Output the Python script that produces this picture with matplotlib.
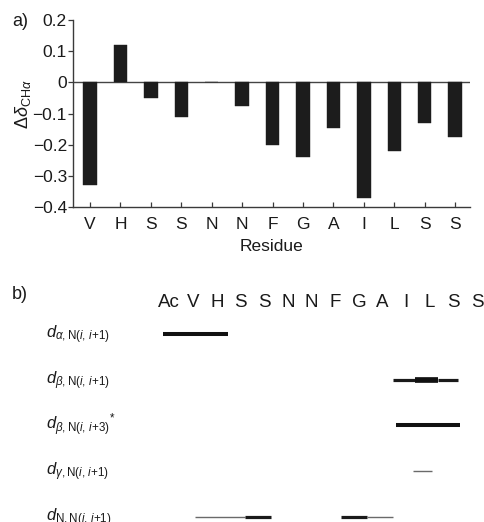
import matplotlib
matplotlib.use("Agg")
import matplotlib.pyplot as plt
import matplotlib.transforms as mtransforms

plt.rcParams["font.family"] = ["Liberation Sans", "DejaVu Sans"]
plt.rcParams["mathtext.fontset"] = "custom"
plt.rcParams["mathtext.rm"] = "Liberation Sans"
plt.rcParams["mathtext.it"] = "Liberation Sans:italic"
plt.rcParams["mathtext.bf"] = "Liberation Sans:bold"
plt.rcParams["axes.unicode_minus"] = True

# ---- panel a: secondary chemical shifts ----
residues = ["V", "H", "S", "S", "N", "N", "F", "G", "A", "I", "L", "S", "S"]
delta_cha = [-0.33, 0.12, -0.05, -0.11, 0.0, -0.075, -0.20, -0.24, -0.145,
             -0.37, -0.22, -0.13, -0.175]
y_ticks = [0.2, 0.1, 0.0, -0.1, -0.2, -0.3, -0.4]
y_tick_labels = ["0.2", "0.1", "0", "\u22120.1", "\u22120.2", "\u22120.3", "\u22120.4"]

# ---- panel b: NOE connectivities ----
sequence = ["Ac", "V", "H", "S", "S", "N", "N", "F", "G", "A", "I", "L", "S", "S"]
noe_labels = [
    r"$d_{\alpha\mathrm{,N}(i,\,i\mathrm{+1})}$",
    r"$d_{\beta\mathrm{,N}(i,\,i\mathrm{+1})}$",
    r"$d_{\beta\mathrm{,N}(i,\,i\mathrm{+3})}{}^{*}$",
    r"$d_{\gamma\mathrm{,N}(i,\,i\mathrm{+1})}$",
    r"$d_{\mathrm{N,N}(i,\,i\mathrm{+1})}$",
]
# (start residue, end residue, intensity class) for each row
noe_segments = [
    [(-0.27, 2.48, "strong")],
    [(9.44, 10.36, "medium"), (10.36, 11.33, "very strong"), (11.33, 12.18, "medium")],
    [(9.56, 12.26, "strong")],
    [(10.28, 11.08, "weak")],
    [(1.08, 3.18, "weak"), (3.18, 4.27, "medium"), (7.24, 8.35, "medium"), (8.35, 9.42, "weak")],
]
intensity_width = {"weak": 1.0, "medium": 2.3, "strong": 2.9, "very strong": 4.1}
intensity_color = {"weak": "#6a6a6a", "medium": "#1a1a1a", "strong": "#111111",
                   "very strong": "#111111"}

W, H = 485, 522
fig = plt.figure(figsize=(W / 100, H / 100), dpi=100)
txt = "#1a1a1a"
spine_c = "#3a3a3a"

ax = fig.add_axes([73 / W, 1 - 207 / H, (470 - 73) / W, (207 - 20) / H])
x = list(range(len(residues)))
ax.bar(x, delta_cha, width=0.44, color="#1c1c1c", edgecolor="#1c1c1c", linewidth=0.3, zorder=2)
ax.axhline(0, color="#444444", lw=1.0, zorder=1)
ax.set_xlim(-0.56, 12.49)
ax.set_ylim(-0.4, 0.2)
ax.set_xticks(x)
ax.set_xticklabels(residues, fontsize=12.5, color=txt)
ax.set_yticks(y_ticks)
ax.set_yticklabels(y_tick_labels, fontsize=12.5, color=txt)
ax.tick_params(axis="x", direction="in", length=3.4, width=0.9, color=spine_c, pad=7)
ax.tick_params(axis="y", direction="out", length=3.4, width=0.9, color=spine_c, pad=1)
for s in ("top", "right"):
    ax.spines[s].set_visible(False)
for s in ("left", "bottom"):
    ax.spines[s].set_color(spine_c)
    ax.spines[s].set_linewidth(1.0)
ax.set_xlabel("Residue", fontsize=12.5, color=txt, labelpad=5)
fig.text(23 / W, 1 - 104 / H, r"$\Delta\delta_{\mathrm{CH}\alpha}$", rotation=90,
         ha="center", va="center", fontsize=13, color=txt)
fig.text(12 / W, 1 - 26 / H, "a)", fontsize=13, color=txt, va="baseline", ha="left")

# panel b
bx = fig.add_axes([0, 0, 1, 1 - 285 / H])
bx.set_xlim(-7.151, 13.322)
bx.set_ylim(4.114, -1.072)
bx.axis("off")
fig.text(12 / W, 1 - 299 / H, "b)", fontsize=13, color=txt, va="baseline", ha="left")

for i, r in enumerate(sequence):
    bx.text(i, -0.70, r, ha="center", va="center", fontsize=13.5, color=txt)

lab_tr = mtransforms.blended_transform_factory(bx.transAxes, bx.transData)
for row, (lab, segs) in enumerate(zip(noe_labels, noe_segments)):
    bx.text(46.5 / W, row + 0.1, lab, transform=lab_tr, ha="left", va="baseline",
            fontsize=12, color=txt)
    for (x0, x1, kind) in segs:
        bx.plot([x0, x1], [row, row], color=intensity_color[kind],
                lw=intensity_width[kind], solid_capstyle="butt")

fig.savefig("out.png", dpi=100)
